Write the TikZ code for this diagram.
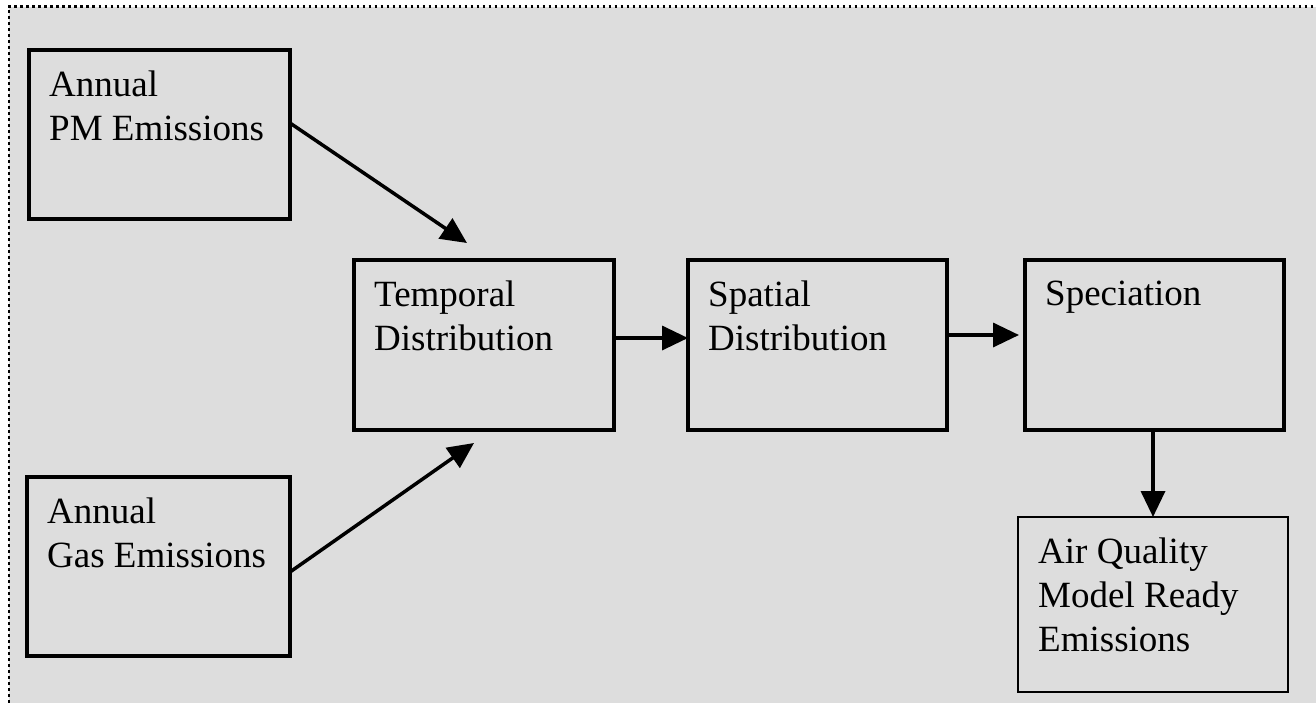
\documentclass[tikz,border=0pt]{standalone}
\usepackage{fontspec}
\setmainfont{Liberation Serif}
\usetikzlibrary{arrows.meta,positioning}

\definecolor{panelgray}{RGB}{221,221,221}

\newcommand*{\pagew}{1316}
\newcommand*{\pageh}{702}

\begin{document}
\begin{tikzpicture}
[
	x=1pt, y=-1pt,
	font=\fontsize{37pt}{44pt}\selectfont,
	stage/.style={draw,line width=4pt,anchor=north west,inner sep=0pt,outer sep=0pt},
	caption/.style={anchor=north west,inner sep=0pt,align=left,xshift=20pt,yshift=-21pt},
	flow/.style={-{Triangle[length=26pt,width=24pt]},line width=3.5pt}
]

	\clip (0,0) rectangle (\pagew,\pageh);

	% panel
	\fill[panelgray] (9,6.5) rectangle (1330,715);
	\draw[line width=2.6pt,dash pattern=on 2.6pt off 3.4pt] (9,715) -- (9,6.5) -- (1330,6.5);

	% stages
	\node[stage,minimum width=261pt,minimum height=169pt,
		label={[caption]north west:Annual\\PM Emissions}] (pm) at (29,50) {};
	\node[stage,minimum width=263pt,minimum height=179pt,
		label={[caption]north west:Annual\\Gas Emissions}] (gas) at (27,477) {};
	\node[stage,minimum width=260pt,minimum height=170pt,
		label={[caption]north west:Temporal\\Distribution}] (temporal) at (354,260) {};
	\node[stage,minimum width=259pt,minimum height=170pt,
		label={[caption]north west:Spatial\\Distribution}] (spatial) at (688,260) {};
	\node[stage,minimum width=259pt,minimum height=170pt,
		label={[caption]north west:Speciation}] (speciation) at (1025,260) {};
	\node[stage,line width=2pt,minimum width=270pt,minimum height=175pt,
		label={[caption]north west:Air Quality\\Model Ready\\Emissions}] (aq) at (1018,517) {};

	% flows
	\draw[flow] ([yshift=11.5pt]pm.east) -- ([xshift=113pt,yshift=17pt]temporal.north west);
	\draw[flow] ([yshift=-5.5pt]gas.east) -- ([xshift=120pt,yshift=-13pt]temporal.south west);
	\draw[flow] ([yshift=7pt]temporal.east) -- ([yshift=7pt]spatial.west);
	\draw[flow] ([yshift=10pt]spatial.east) -- ([xshift=-6pt,yshift=10pt]speciation.west);
	\draw[flow] (speciation.south -| aq.north) -- (aq.north);

\end{tikzpicture}
\end{document}
